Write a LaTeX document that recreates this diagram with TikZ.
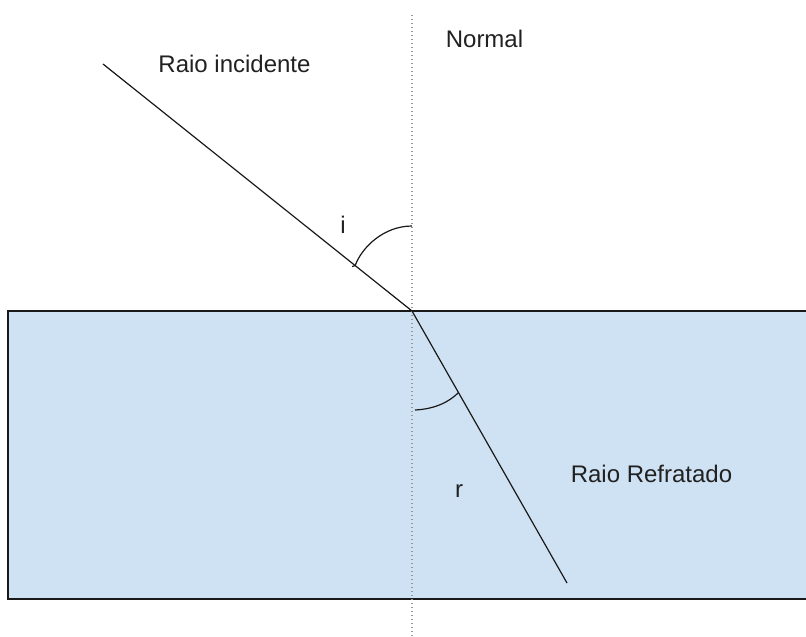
\documentclass[tikz,border=0pt]{standalone}
\usepackage{fontspec}
\setmainfont{Liberation Sans}
\usetikzlibrary{calc}
\begin{document}
\begin{tikzpicture}[x=1pt, y=-1pt, ink/.style={line width=1.2pt, rfInk}, edge/.style={line width=1.4pt, rfInk}, dottedink/.style={line width=1.3pt, rfInk!45, dash pattern=on 1.3pt off 2.7pt}, note/.style={font=\fontsize{24}{28}\selectfont, text=rfText, anchor=base, inner sep=0pt}, wash/.style={fill=rfSky}]
\definecolor{rfInk}{rgb}{0.10,0.10,0.10}
\definecolor{rfText}{rgb}{0.13,0.13,0.13}
\definecolor{rfSky}{rgb}{0.81,0.886,0.953}
\useasboundingbox (0,0) rectangle (806,637);
% the second medium
\fill[wash] (8,311) rectangle (808,599);
\draw[edge] (808,311) -- (8,311) -- (8,599) -- (808,599);
% points of the rays
\coordinate (O) at (412,311);
\coordinate (A) at (103,64);
\coordinate (B) at (567,583);
\coordinate (Ntop) at (412,15);
\coordinate (Nbot) at (412,640);
\draw[dottedink] (Ntop) -- (Nbot);
\draw[ink] (A) -- (O) -- (B);
% angles
\coordinate (i1) at ($(O)!0.184!(A)$);
\coordinate (i2) at (412,226);
\draw[ink] ($(i1)+(-3,1)$) -- (i1) .. controls (362,247) and (384,226) .. (i2);
\coordinate (r1) at (415,410);
\coordinate (r2) at ($(O)!0.30!(B)$);
\draw[ink] (r1) .. controls (435,409) and (449,402) .. (r2);
% labels
\node[note] (incidente) at (234.5,72) {Raio incidente};
\node[note] (normal) at (484.5,47) {Normal};
\node[note] (angi) at (343,233) {i};
\node[note] (angr) at (459,497) {r};
\node[note] (refratado) at (651.5,482) {Raio Refratado};
\end{tikzpicture}
\end{document}
